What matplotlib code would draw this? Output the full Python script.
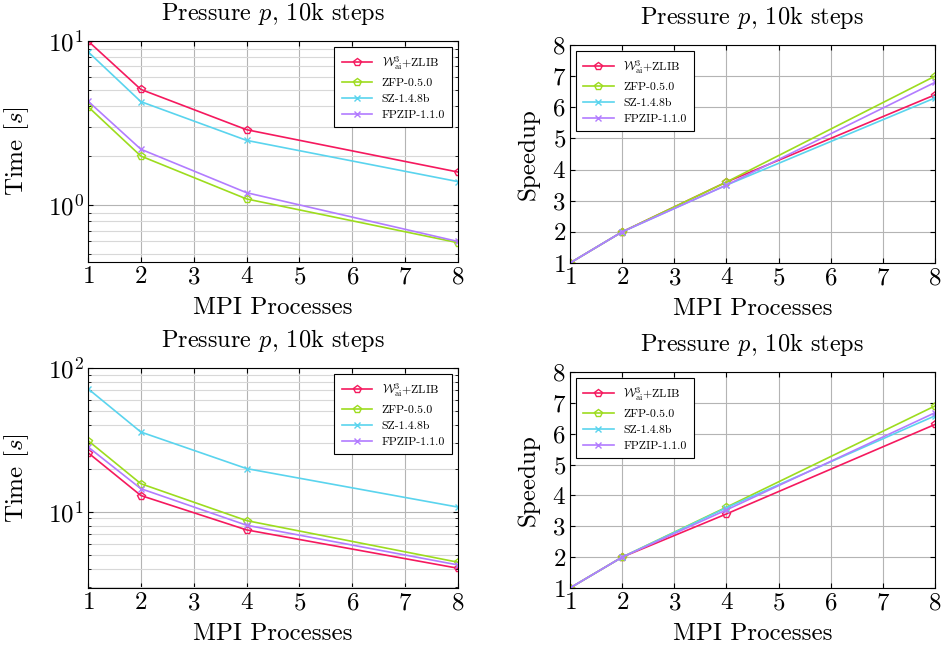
import matplotlib
matplotlib.use("Agg")
import matplotlib.pyplot as plt
from matplotlib.ticker import LogLocator, NullFormatter

plt.rcParams['font.family'] = 'serif'
plt.rcParams['font.serif'] = ['cmr10', 'DejaVu Serif']
plt.rcParams['mathtext.fontset'] = 'cm'
plt.rcParams['axes.formatter.use_mathtext'] = True

procs = [1, 2, 4, 8]
labels = [r'$\mathcal{W}^3_{\mathrm{ai}}$+ZLIB', 'ZFP-0.5.0', 'SZ-1.4.8b', 'FPZIP-1.1.0']
colors = ['#f5195e', '#9ddc1e', '#5ad4ee', '#b27cff']
markers = ['p', 'p', 'x', 'x']

# top row: time [s]
time_top_w3 = [10.0, 5.07, 2.88, 1.59]
time_top_zfp = [3.98, 1.99, 1.09, 0.59]
time_top_sz = [8.6, 4.27, 2.48, 1.39]
time_top_fpzip = [4.3, 2.19, 1.19, 0.60]

# top row: speedup
speed_top_w3 = [1, 2, 3.6, 6.4]
speed_top_zfp = [1, 2, 3.6, 7.0]
speed_top_sz = [1, 2, 3.5, 6.3]
speed_top_fpzip = [1, 2, 3.5, 6.8]

# bottom row: time [s]
time_bot_w3 = [25.8, 13.0, 7.5, 4.06]
time_bot_zfp = [31.3, 15.7, 8.7, 4.47]
time_bot_sz = [71.8, 35.9, 20.0, 10.8]
time_bot_fpzip = [28.3, 14.5, 8.08, 4.28]

# bottom row: speedup
speed_bot_w3 = [1, 2, 3.4, 6.3]
speed_bot_zfp = [1, 2, 3.62, 6.9]
speed_bot_sz = [1, 2, 3.6, 6.58]
speed_bot_fpzip = [1, 2, 3.53, 6.68]

W, H = 942, 647
fig = plt.figure(figsize=(W / 100, H / 100), dpi=100)


def add_ax(left, top, right, bottom):
    return fig.add_axes([left / W, 1 - bottom / H, (right - left) / W, (bottom - top) / H])


def draw(ax, series, log, ylim, legend_loc):
    for ys, lab, c, m in zip(series, labels, colors, markers):
        ax.plot(procs, ys, color=c, marker=m, markersize=5.5 if m == 'p' else 4,
                markerfacecolor='none', markeredgewidth=1.0, linewidth=1.2, label=lab)
    ax.set_xlim(1, 8)
    ax.set_xticks(range(1, 9))
    if log:
        ax.set_yscale('log')
        ax.yaxis.set_minor_locator(LogLocator(base=10, subs=range(2, 10)))
        ax.yaxis.set_minor_formatter(NullFormatter())
        ax.grid(True, which='minor', axis='y', color='#d8d8d8', linewidth=0.8)
        ax.set_ylabel(r'Time [$s$]', fontsize=18, labelpad=12)
    else:
        ax.set_yticks(range(1, 9))
        ax.set_ylabel('Speedup', fontsize=18, labelpad=9)
    ax.set_ylim(*ylim)
    ax.grid(True, which='major', color='#b4b4b4', linewidth=0.8)
    ax.set_axisbelow(True)
    ax.tick_params(labelsize=18, direction='in', which='both', top=True, right=True, pad=3)
    ax.set_xlabel('MPI Processes', fontsize=18, labelpad=6)
    ax.set_title(r'Pressure $p$, 10k steps', fontsize=17.5, pad=15)
    leg = ax.legend(loc=legend_loc, fontsize=8.5, fancybox=False, framealpha=1,
                    edgecolor='black', handlelength=2.6, borderpad=0.6, labelspacing=0.5)
    leg.get_frame().set_linewidth(0.8)


ax1 = add_ax(88, 41, 458, 262)
draw(ax1, [time_top_w3, time_top_zfp, time_top_sz, time_top_fpzip], True, (0.45, 10), 'upper right')

ax2 = add_ax(570, 45, 935, 263)
draw(ax2, [speed_top_w3, speed_top_zfp, speed_top_sz, speed_top_fpzip], False, (1, 8), 'upper left')

ax3 = add_ax(88, 368, 458, 588)
draw(ax3, [time_bot_w3, time_bot_zfp, time_bot_sz, time_bot_fpzip], True, (2.96, 100), 'upper right')

ax4 = add_ax(570, 372, 935, 588)
draw(ax4, [speed_bot_w3, speed_bot_zfp, speed_bot_sz, speed_bot_fpzip], False, (1, 8), 'upper left')

fig.savefig('out.png', dpi=100)
